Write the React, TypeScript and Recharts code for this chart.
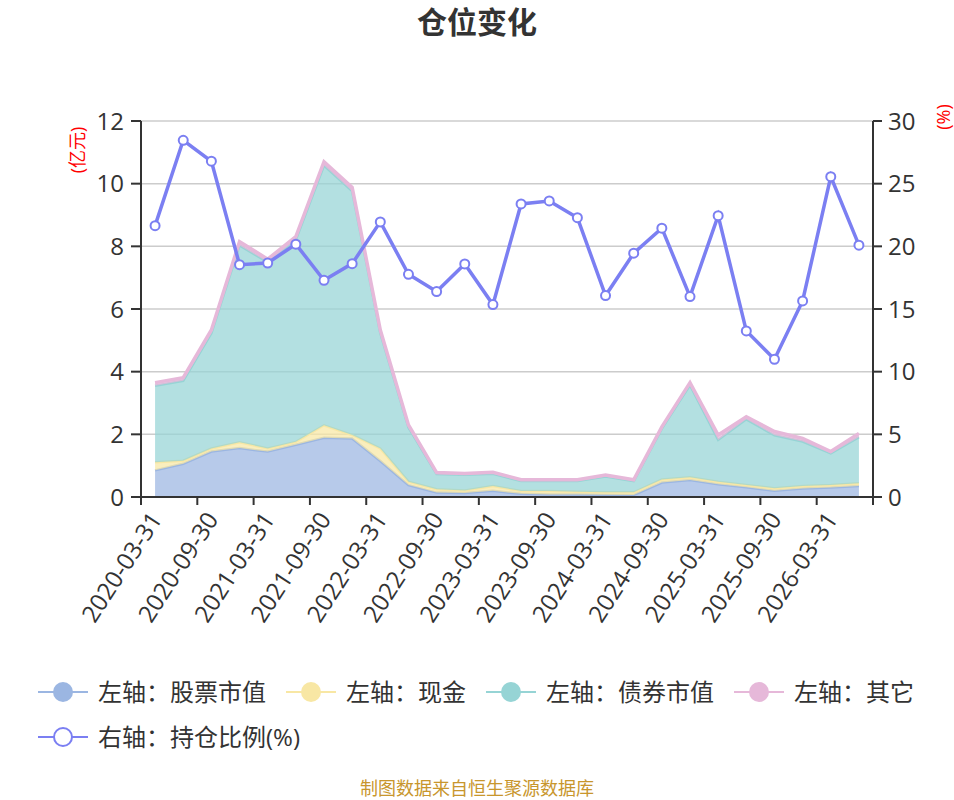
import {
  ComposedChart,
  Area,
  Line,
  XAxis,
  YAxis,
  CartesianGrid,
} from 'recharts'

const quarters = [
  '2020-03-31', '2020-06-30', '2020-09-30', '2020-12-31',
  '2021-03-31', '2021-06-30', '2021-09-30', '2021-12-31',
  '2022-03-31', '2022-06-30', '2022-09-30', '2022-12-31',
  '2023-03-31', '2023-06-30', '2023-09-30', '2023-12-31',
  '2024-03-31', '2024-06-30', '2024-09-30', '2024-12-31',
  '2025-03-31', '2025-06-30', '2025-09-30', '2025-12-31',
  '2026-03-31', '2026-06-30',
]

// 亿元
const stockValue = [0.85, 1.06, 1.45, 1.56, 1.45, 1.67, 1.89, 1.87, 1.15, 0.38, 0.14, 0.13, 0.2, 0.1, 0.08, 0.08, 0.07, 0.06, 0.46, 0.54, 0.41, 0.31, 0.2, 0.27, 0.3, 0.35]
const cash = [0.26, 0.1, 0.1, 0.19, 0.1, 0.09, 0.4, 0.11, 0.4, 0.11, 0.11, 0.08, 0.15, 0.09, 0.11, 0.09, 0.08, 0.09, 0.1, 0.09, 0.08, 0.07, 0.08, 0.08, 0.08, 0.09]
const bondValue = [2.44, 2.55, 3.68, 6.28, 5.94, 6.45, 8.29, 7.78, 3.68, 1.73, 0.48, 0.5, 0.39, 0.32, 0.32, 0.34, 0.5, 0.36, 1.62, 2.94, 1.33, 2.1, 1.69, 1.42, 1.01, 1.47]
const other = [0.1, 0.1, 0.1, 0.12, 0.1, 0.1, 0.12, 0.12, 0.1, 0.08, 0.05, 0.04, 0.05, 0.04, 0.04, 0.04, 0.05, 0.04, 0.06, 0.08, 0.16, 0.08, 0.12, 0.1, 0.06, 0.12]
// %
const positionRatio = [21.65, 28.46, 26.79, 18.54, 18.67, 20.17, 17.29, 18.62, 21.95, 17.77, 16.39, 18.6, 15.35, 23.38, 23.62, 22.29, 16.07, 19.45, 21.45, 15.99, 22.45, 13.25, 10.99, 15.64, 25.56, 20.09]

const leftTicks = [0, 2, 4, 6, 8, 10, 12]
const rightTicks = [0, 5, 10, 15, 20, 25, 30]

const data = quarters.map((q, i) => ({
  date: q,
  stock: stockValue[i],
  cash: cash[i],
  bond: bondValue[i],
  other: other[i],
  ratio: positionRatio[i],
}))

const FONT = "'Open Sans', 'Noto Sans CJK SC', sans-serif"
const W = 954
const MARGIN = { top: 121, right: 21, bottom: 0, left: 81 }
const Y_W = 60
const PLOT_W = W - MARGIN.left - MARGIN.right - Y_W * 2

const series = [
  { key: 'stock', name: '左轴：股票市值', color: '#9bb6e2' },
  { key: 'cash', name: '左轴：现金', color: '#f8e7a4' },
  { key: 'bond', name: '左轴：债券市值', color: '#96d4d5' },
  { key: 'other', name: '左轴：其它', color: '#e6b8d9' },
]
const LINE_COLOR = '#7b7ff2'

function XTick(props: any) {
  const { x, y, payload, index } = props
  const bw = PLOT_W / quarters.length
  const show = index % 2 === 0
  const last = index === quarters.length - 1
  const ly = y + 17
  return (
    <g>
      {show && <line x1={x - bw / 2} x2={x - bw / 2} y1={y} y2={y + 8} stroke="#333" strokeWidth={2} />}
      {last && <line x1={x + bw / 2} x2={x + bw / 2} y1={y} y2={y + 8} stroke="#333" strokeWidth={2} />}
      {show && (
        <text
          x={x}
          y={ly}
          transform={`rotate(-57, ${x}, ${ly})`}
          textAnchor="end"
          dominantBaseline="central"
          fontSize={24}
          fill="#333"
          fontFamily={FONT}
        >
          {payload.value}
        </text>
      )}
    </g>
  )
}

function LegendIcon({ color, hollow }: { color: string; hollow?: boolean }) {
  return (
    <svg width={50} height={24} style={{ marginRight: 10, flexShrink: 0 }}>
      <line x1={0} x2={50} y1={12} y2={12} stroke={color} strokeWidth={2} />
      <circle cx={25} cy={12} r={hollow ? 9 : 10} fill={hollow ? '#fff' : color} stroke={color} strokeWidth={hollow ? 2 : 0} />
    </svg>
  )
}

function LegendItem({ color, name, hollow }: { color: string; name: string; hollow?: boolean }) {
  return (
    <div style={{ display: 'flex', alignItems: 'center' }}>
      <LegendIcon color={color} hollow={hollow} />
      <span style={{ fontSize: 24, color: '#333', lineHeight: '24px', whiteSpace: 'nowrap' }}>{name}</span>
    </div>
  )
}

export default function App() {
  return (
    <div style={{ position: 'relative', width: W, height: 800, fontFamily: FONT, background: '#fff', overflow: 'hidden' }}>
      <style>{'body{margin:0}'}</style>
      <div style={{ position: 'absolute', top: 2, left: 0, width: W, textAlign: 'center', fontSize: 30, fontWeight: 700, color: '#333', lineHeight: '40px' }}>
        仓位变化
      </div>
      <div style={{ position: 'absolute', left: 77, top: 150, transform: 'translate(-50%, -50%) rotate(-90deg)', color: '#f00', fontSize: 18, whiteSpace: 'nowrap', lineHeight: '18px' }}>
        (亿元)
      </div>
      <div style={{ position: 'absolute', left: 943, top: 117, transform: 'translate(-50%, -50%) rotate(-90deg)', color: '#f00', fontSize: 18, whiteSpace: 'nowrap', lineHeight: '18px' }}>
        (%)
      </div>

      <div style={{ position: 'absolute', top: 0, left: 0 }}>
        <ComposedChart width={W} height={640} data={data} margin={MARGIN}>
          <CartesianGrid yAxisId="left" vertical={false} stroke="#ccc" strokeWidth={1.5} />
          <XAxis
            dataKey="date"
            scale="band"
            interval={0}
            tick={<XTick />}
            tickLine={false}
            tickSize={0}
            tickMargin={0}
            height={640 - 497}
            axisLine={{ stroke: '#333', strokeWidth: 2 }}
          />
          <YAxis
            yAxisId="left"
            domain={[0, 12]}
            ticks={leftTicks}
            width={Y_W}
            tickSize={10}
            tickMargin={7}
            tick={{ fontSize: 24, fill: '#333', fontFamily: FONT }}
            axisLine={{ stroke: '#333', strokeWidth: 2 }}
            tickLine={{ stroke: '#333', strokeWidth: 2 }}
          />
          <YAxis
            yAxisId="right"
            orientation="right"
            domain={[0, 30]}
            ticks={rightTicks}
            width={Y_W}
            tickSize={9}
            tickMargin={6}
            tick={{ fontSize: 24, fill: '#333', fontFamily: FONT }}
            axisLine={{ stroke: '#333', strokeWidth: 2 }}
            tickLine={{ stroke: '#333', strokeWidth: 2 }}
          />
          {series.map((s) => (
            <Area
              key={s.key}
              yAxisId="left"
              type="linear"
              dataKey={s.key}
              name={s.name}
              stackId="pos"
              stroke={s.color}
              strokeWidth={s.key === 'other' ? 3.5 : 2.5}
              fill={s.color}
              fillOpacity={0.72}
              dot={false}
              activeDot={false}
              isAnimationActive={false}
            />
          ))}
          <Line
            yAxisId="right"
            type="linear"
            dataKey="ratio"
            name="右轴：持仓比例(%)"
            stroke={LINE_COLOR}
            strokeWidth={3.5}
            dot={{ r: 4.5, fill: '#fff', stroke: LINE_COLOR, strokeWidth: 2 }}
            activeDot={false}
            isAnimationActive={false}
          />
        </ComposedChart>
      </div>

      <div style={{ position: 'absolute', left: 38, top: 680, display: 'flex', gap: 20 }}>
        {series.map((s) => (
          <LegendItem key={s.key} color={s.color} name={s.name} />
        ))}
      </div>
      <div style={{ position: 'absolute', left: 38, top: 725, display: 'flex' }}>
        <LegendItem color={LINE_COLOR} name="右轴：持仓比例(%)" hollow />
      </div>

      <div style={{ position: 'absolute', left: 0, top: 777, width: W, textAlign: 'center', fontSize: 18, color: '#c8962d', lineHeight: '22px' }}>
        制图数据来自恒生聚源数据库
      </div>
    </div>
  )
}
